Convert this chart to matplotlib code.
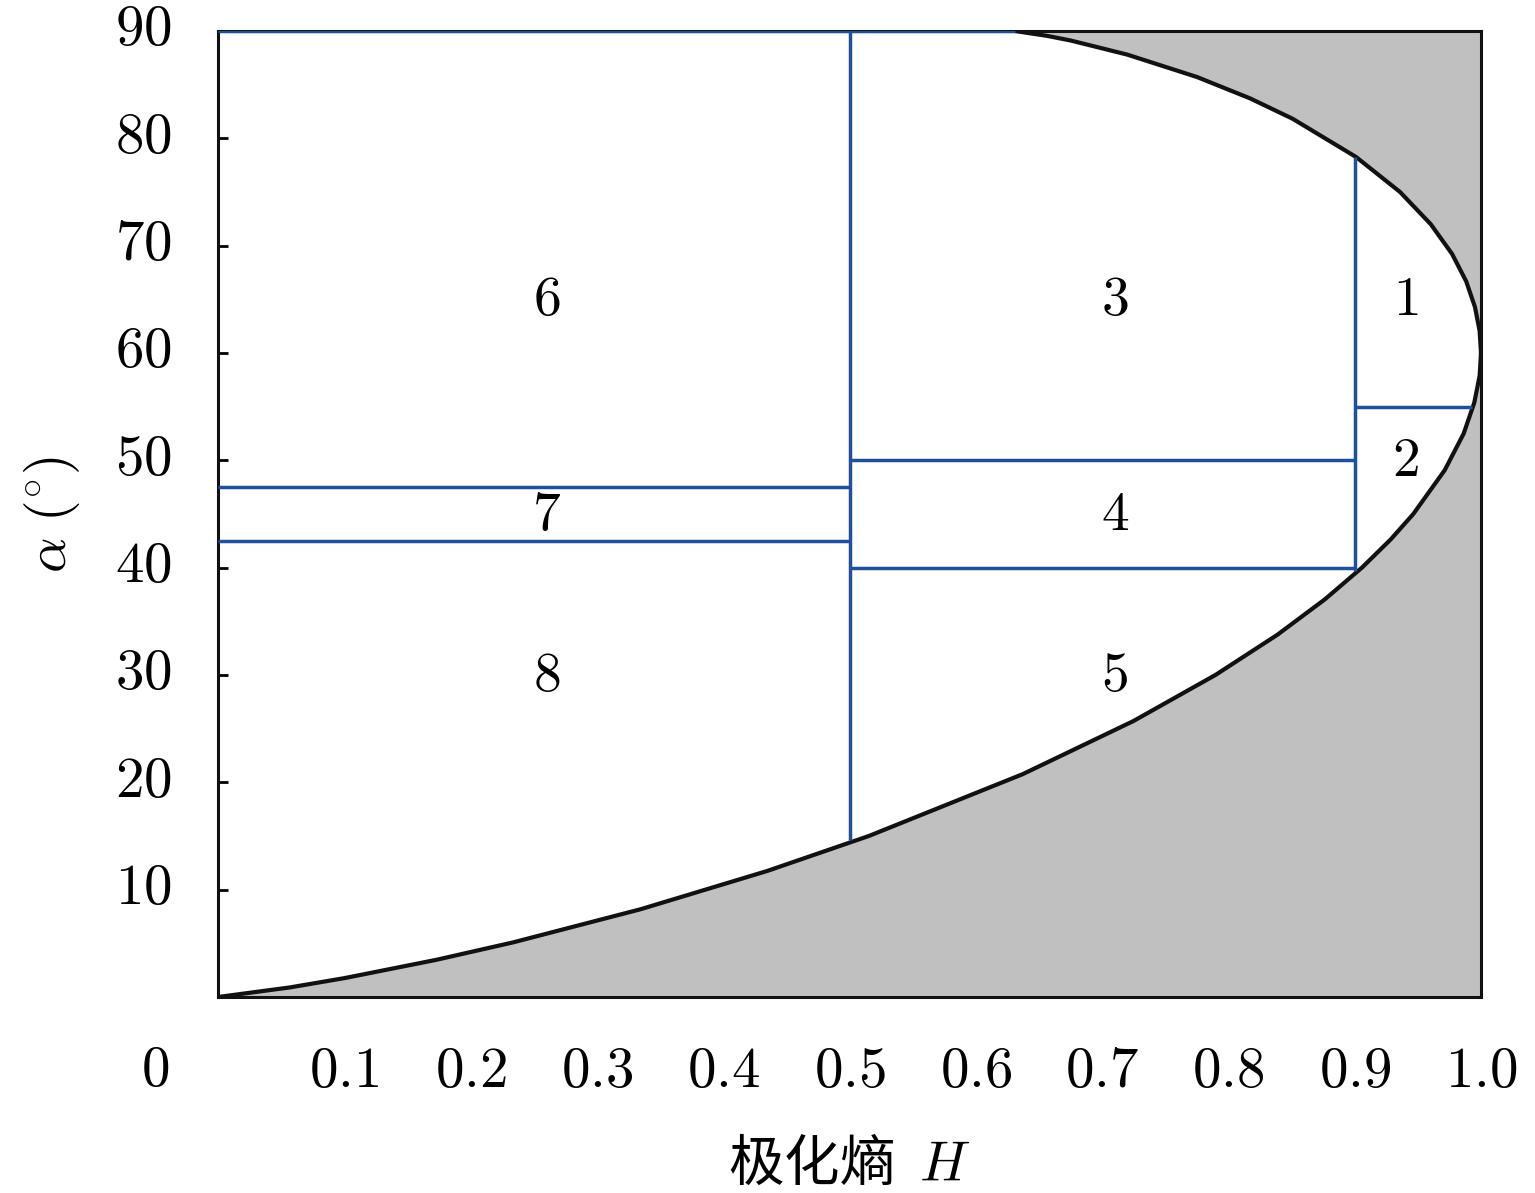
import matplotlib
matplotlib.use('Agg')
import matplotlib.pyplot as plt
import matplotlib.transforms as mtransforms

plt.rcParams['mathtext.fontset'] = 'cm'
plt.rcParams['font.family'] = ['Noto Sans CJK SC', 'DejaVu Sans']

# Curva límite inferior (H, alpha)
H_lower = [0.0, 0.0568, 0.1002, 0.1727, 0.2337, 0.3347, 0.4348, 0.5153, 0.6373,
           0.7248, 0.7897, 0.8388, 0.8765, 0.9057, 0.9285, 0.9464, 0.9713,
           0.9863, 0.9947, 0.9989, 1.0]
alpha_lower = [0.0, 0.89, 1.76, 3.46, 5.09, 8.18, 11.74, 15.0, 20.77,
               25.71, 30.0, 33.75, 37.06, 40.0, 42.63, 45.0, 49.09,
               52.5, 55.38, 57.86, 60.0]

# Curva límite superior (de H=1 hacia H=0.631)
H_upper = [1.0, 0.9989, 0.9952, 0.9883, 0.9771, 0.9602, 0.9359, 0.9011, 0.8509,
           0.8172, 0.7752, 0.7199, 0.6753, 0.6563, 0.6309]
alpha_upper = [60.0, 62.07, 64.29, 66.67, 69.23, 72.0, 75.0, 78.26, 81.82,
               83.72, 85.71, 87.80, 89.11, 89.55, 90.0]

# Líneas de las zonas: (H0, H1, alpha0, alpha1)
zone_lines = [
    (0.0, 0.6309, 90.0, 90.0),
    (0.5, 0.5, 14.6, 90.0),
    (0.9, 0.9, 39.7, 78.3),
    (0.0, 0.5, 47.5, 47.5),
    (0.0, 0.5, 42.5, 42.5),
    (0.5, 0.9, 50.0, 50.0),
    (0.5, 0.9, 40.0, 40.0),
    (0.9, 0.993, 55.0, 55.0),
]

zone_names = ['1', '2', '3', '4', '5', '6', '7', '8']
zone_H = [0.94, 0.94, 0.71, 0.71, 0.71, 0.26, 0.26, 0.26]
zone_alpha = [65.0, 50.0, 65.0, 45.0, 30.0, 65.0, 45.0, 30.0]

x_ticks = [0.1, 0.2, 0.3, 0.4, 0.5, 0.6, 0.7, 0.8, 0.9, 1.0]
y_ticks = [10, 20, 30, 40, 50, 60, 70, 80, 90]

blue = '#1f4f9f'

fig = plt.figure(figsize=(15.35, 11.93), dpi=100)
ax = fig.add_axes([218 / 1535, 1 - 997 / 1193, 1263 / 1535, 966 / 1193])

# Zona no factible en gris
poly_H = H_lower + H_upper[1:] + [1.0, 1.0]
poly_a = alpha_lower + alpha_upper[1:] + [90.0, 0.0]
ax.fill(poly_H, poly_a, color='#c0c0c0', lw=0, zorder=1)

# Curvas límite
ax.plot(H_lower, alpha_lower, color='#111111', lw=3.0, zorder=3)
ax.plot(H_upper, alpha_upper, color='#111111', lw=3.0, zorder=3)

# Líneas azules de las zonas
for h0, h1, a0, a1 in zone_lines:
    ax.plot([h0, h1], [a0, a1], color=blue, lw=2.5, zorder=4, solid_capstyle='butt')

for name, h, a in zip(zone_names, zone_H, zone_alpha):
    ax.text(h, a, '$' + name + '$', fontsize=40, ha='center', va='center', zorder=5)

ax.set_xlim(0, 1)
ax.set_ylim(0, 90)

ax.set_xticks(x_ticks)
ax.set_xticklabels(['$%.1f$' % v for v in x_ticks], fontsize=41)
ax.set_yticks(y_ticks)
ax.set_yticklabels(['$%d$' % v for v in y_ticks], fontsize=41)
ax.tick_params(axis='x', length=0, pad=32)
ax.tick_params(axis='y', direction='in', length=7, width=2, pad=33)

# subir un poco las etiquetas del eje y
offset = mtransforms.ScaledTranslation(0, 6 / 72, fig.dpi_scale_trans)
for lab in ax.get_yticklabels():
    lab.set_transform(lab.get_transform() + offset)

for s in ax.spines.values():
    s.set_linewidth(2.2)
    s.set_color('#111111')

fig.text(155 / 1535, 1 - 1070 / 1193, '$0$', fontsize=41, ha='center', va='center')

ax.set_xlabel('极化熵  $H$', fontsize=40, labelpad=26)
ax.set_ylabel(r'$\alpha\ (^{\circ})$', fontsize=40)
ax.yaxis.set_label_coords(-0.108, 0.5)

fig.savefig('out.png', dpi=100, facecolor='white')
